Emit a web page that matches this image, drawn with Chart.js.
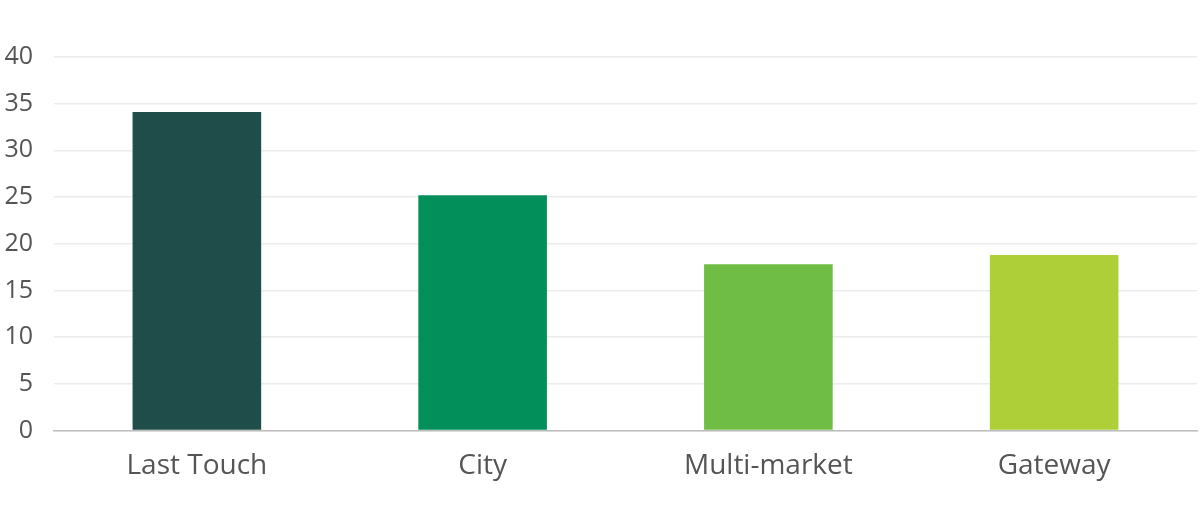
<!DOCTYPE html>
<html>
<head>
<meta charset="utf-8">
<script src="https://cdn.jsdelivr.net/npm/chart.js@4"></script>
<style>
  html, body { margin: 0; padding: 0; background: #fff; }
  #wrap { width: 1200px; height: 512px; }
</style>
</head>
<body>
<div id="wrap"><canvas id="barChart"></canvas></div>
<script>
// chart data
const categories = ['Last Touch', 'City', 'Multi-market', 'Gateway'];
const values = [34.1, 25.2, 17.8, 18.8];
const barColors = ['#1e4d4a', '#028f5a', '#70bd45', '#aecf38'];
const yTicks = [0, 5, 10, 15, 20, 25, 30, 35, 40];

const ctx = document.getElementById('barChart').getContext('2d');
new Chart(ctx, {
  type: 'bar',
  data: {
    labels: categories,
    datasets: [{
      data: values,
      backgroundColor: barColors,
      barPercentage: 0.45,
      categoryPercentage: 1.0
    }]
  },
  options: {
    responsive: true,
    maintainAspectRatio: false,
    animation: false,
    layout: { padding: { top: 57, right: 3, bottom: 10, left: 0 } },
    plugins: {
      legend: { display: false },
      tooltip: { enabled: false }
    },
    scales: {
      x: {
        grid: { display: false, drawTicks: false },
        border: { color: '#bdbdbd', width: 1.5 },
        ticks: {
          color: '#555',
          padding: 19,
          font: { family: 'Open Sans', size: 28 }
        }
      },
      y: {
        min: yTicks[0],
        max: yTicks[yTicks.length - 1],
        afterBuildTicks: axis => { axis.ticks = yTicks.map(v => ({ value: v })); },
        afterFit: axis => { axis.width = 54; },
        grid: { color: '#ebebeb', lineWidth: 1.5, drawTicks: false },
        border: { display: false },
        ticks: {
          color: '#555',
          padding: 21,
          font: { family: 'Open Sans', size: 25 }
        }
      }
    }
  }
});
</script>
</body>
</html>
